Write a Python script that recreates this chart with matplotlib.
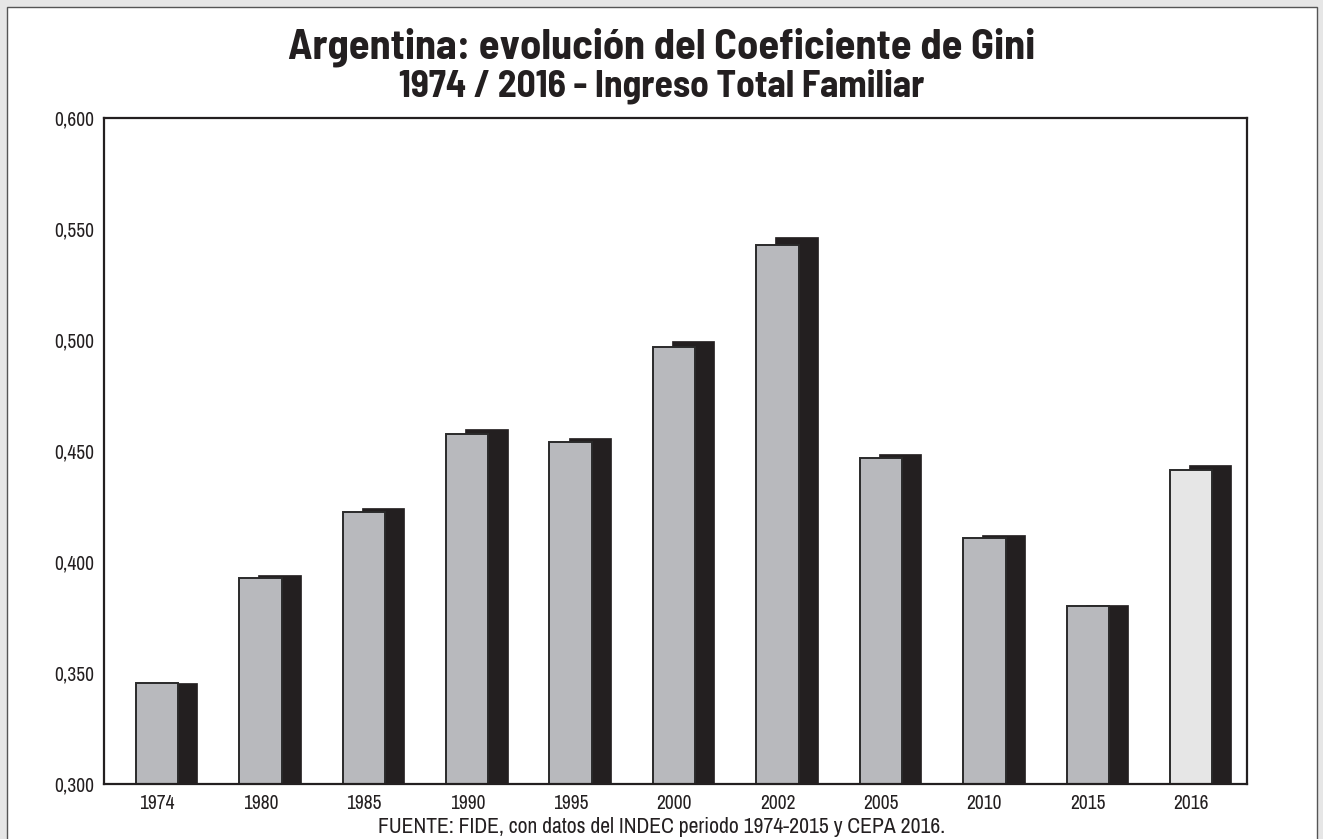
import matplotlib
matplotlib.use("Agg")
import matplotlib.pyplot as plt
from matplotlib import font_manager as fm
from matplotlib.patches import Rectangle
from matplotlib.ticker import FuncFormatter, MultipleLocator

# Gini coefficient, total family income
years = ["1974", "1980", "1985", "1990", "1995", "2000", "2002", "2005", "2010", "2015", "2016"]
gini = [0.3455, 0.393, 0.4225, 0.4577, 0.4539, 0.4968, 0.5428, 0.4467, 0.4108, 0.3802, 0.4416]
# top of the dark back face of each bar (3D depth effect)
depth_top = [0.3457, 0.394, 0.4243, 0.4598, 0.4559, 0.4995, 0.5465, 0.4488, 0.4120, 0.3806, 0.4437]

title = "Argentina: evolución del Coeficiente de Gini"
subtitle = "1974 / 2016 - Ingreso Total Familiar"
source = "FUENTE: FIDE, con datos del INDEC periodo 1974-2015 y CEPA 2016."

installed = {f.name for f in fm.fontManager.ttflist}


def pick(candidates):
    for name in candidates:
        if name in installed:
            return [name, "DejaVu Sans"]
    return ["DejaVu Sans"]


head_font = pick(["Barlow Semi Condensed", "Barlow Condensed", "Roboto Condensed",
                  "IBM Plex Sans Condensed", "Open Sans Condensed"])
body_font = pick(["Liberation Sans Narrow", "Archivo Narrow", "PT Sans Narrow",
                  "Roboto Condensed", "IBM Plex Sans Condensed"])
plt.rcParams["font.family"] = body_font

W, H = 1323, 839
fig = plt.figure(figsize=(W / 100, H / 100), dpi=100, facecolor="#e6e6e6")

# white panel with thin dark border
panel = Rectangle((7 / W, -0.05), (1317 - 7) / W, (H - 7) / H + 0.05,
                  transform=fig.transFigure, facecolor="white",
                  edgecolor="#555555", linewidth=1.0, zorder=-5)
fig.patches.append(panel)

ax = fig.add_axes([104 / W, 1 - 784 / H, (1247 - 104) / W, (784 - 118) / H])
ax.set_zorder(2)
ax.set_facecolor("white")

x = list(range(len(years)))
bar_w = 0.41
shift = 0.184
face_colors = ["#b8b9bd"] * (len(years) - 1) + ["#e6e6e6"]
base = 0.300

# dark back faces
ax.bar([i + shift for i in x], [v - base for v in depth_top], bottom=base,
       width=bar_w, color="#231f20", edgecolor="#231f20", linewidth=0.5, zorder=2)
# front faces
ax.bar(x, [v - base for v in gini], bottom=base, width=bar_w,
       color=face_colors, edgecolor="#2a2a2a", linewidth=1.4, zorder=3)

ax.set_xlim(-0.513, len(years) - 1 + 0.54)
ax.set_ylim(0.300, 0.600)
ax.yaxis.set_major_locator(MultipleLocator(0.05))
ax.yaxis.set_major_formatter(FuncFormatter(lambda v, p: f"{v:.3f}".replace(".", ",")))
ax.set_xticks(x)
ax.set_xticklabels(years)
ax.tick_params(axis="both", length=0, labelsize=14, colors="#231f20")
ax.tick_params(axis="y", pad=7)
ax.tick_params(axis="x", pad=7)

for s in ax.spines.values():
    s.set_linewidth(1.6)
    s.set_color("#231f20")
    s.set_zorder(5)

t1 = fig.text(0.5, 1 - 47 / H, title, ha="center", va="center", fontsize=29,
              fontweight="bold", color="#231f20", family=head_font)
t2 = fig.text(0.5, 1 - 86 / H, subtitle, ha="center", va="center", fontsize=22,
              fontweight="bold", color="#231f20", family=head_font)
t3 = fig.text(0.5, 1 - 827 / H, source, ha="center", va="center", fontsize=13.5,
              color="#231f20", family=body_font)

# scale the heading and footer text to their intended pixel widths
renderer = fig.canvas.get_renderer()
for txt, width_px in ((t1, 748), (t2, 526), (t3, 567)):
    w = txt.get_window_extent(renderer).width
    txt.set_fontsize(txt.get_fontsize() * width_px / w)

fig.savefig("out.png", dpi=100, facecolor=fig.get_facecolor())
